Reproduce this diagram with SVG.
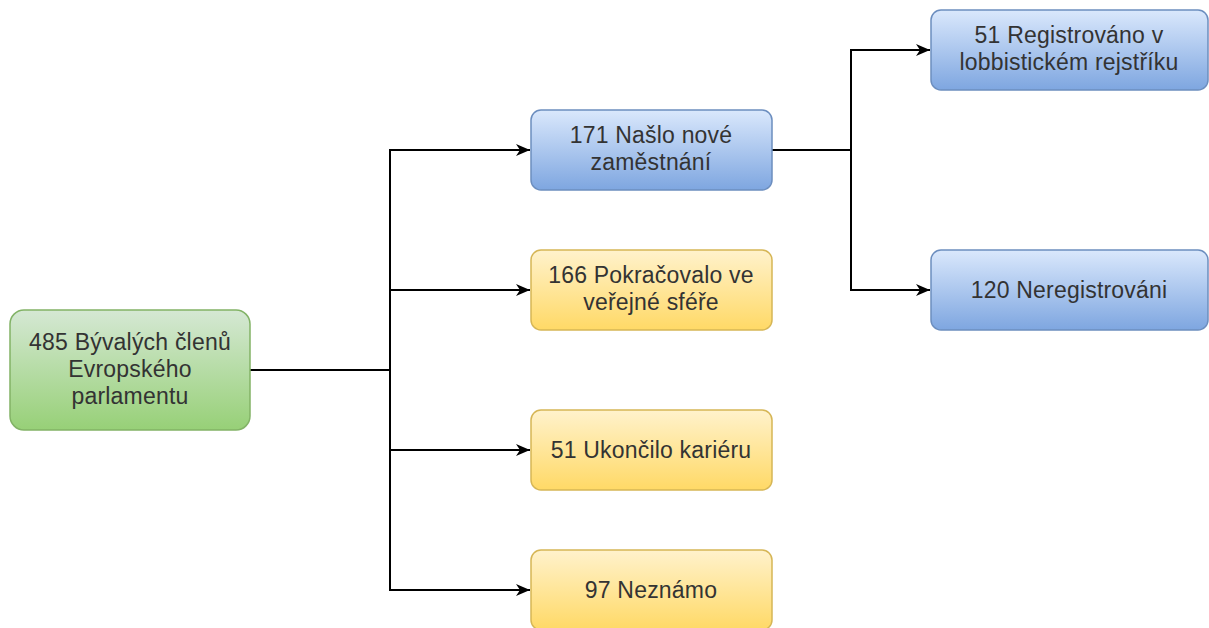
<svg xmlns="http://www.w3.org/2000/svg" width="1209" height="628" viewBox="0 0 1209 628">
  <style>
    .lbl { font-family: "Liberation Sans", Arial, sans-serif; font-size: 23px; letter-spacing: 0.2px; fill: #333333; text-anchor: middle; }
    .edge { fill: none; stroke: #000000; stroke-width: 2; }
  </style>
  <defs>
    <linearGradient id="gGreen" x1="0" y1="0" x2="0" y2="1">
      <stop offset="0" stop-color="#d5e8d4"/>
      <stop offset="1" stop-color="#97d077"/>
    </linearGradient>
    <linearGradient id="gBlue" x1="0" y1="0" x2="0" y2="1">
      <stop offset="0" stop-color="#dae8fc"/>
      <stop offset="1" stop-color="#7ea6e0"/>
    </linearGradient>
    <linearGradient id="gYellow" x1="0" y1="0" x2="0" y2="1">
      <stop offset="0" stop-color="#fff2cc"/>
      <stop offset="1" stop-color="#ffd966"/>
    </linearGradient>
    <marker id="arrow" markerWidth="15" markerHeight="14" refX="14" refY="7" orient="auto" markerUnits="userSpaceOnUse">
      <path d="M0,1 L14,7 L0,13 L4,7 Z" fill="#000000"/>
    </marker>
  </defs>

  <g id="connectors">
    <path class="edge" d="M250,370 H390 V150 H530" marker-end="url(#arrow)"/>
    <path class="edge" d="M390,290 H530" marker-end="url(#arrow)"/>
    <path class="edge" d="M390,370 V450 H530" marker-end="url(#arrow)"/>
    <path class="edge" d="M390,450 V590 H530" marker-end="url(#arrow)"/>
    <path class="edge" d="M772,150 H851 V50 H930" marker-end="url(#arrow)"/>
    <path class="edge" d="M851,150 V290 H930" marker-end="url(#arrow)"/>
  </g>

  <g id="node-root">
    <rect x="10" y="310" width="240" height="120" rx="14" fill="url(#gGreen)" stroke="#82b366" stroke-width="1.5"/>
    <text class="lbl" x="130" y="350">485 Bývalých členů</text>
    <text class="lbl" x="130" y="377">Evropského</text>
    <text class="lbl" x="130" y="404">parlamentu</text>
  </g>

  <g id="node-employed">
    <rect x="531" y="110" width="241" height="80" rx="10" fill="url(#gBlue)" stroke="#6c8ebf" stroke-width="1.5"/>
    <text class="lbl" x="651" y="143">171 Našlo nové</text>
    <text class="lbl" x="651" y="170">zaměstnání</text>
  </g>

  <g id="node-public">
    <rect x="531" y="250" width="241" height="80" rx="10" fill="url(#gYellow)" stroke="#d6b656" stroke-width="1.5"/>
    <text class="lbl" x="651" y="283">166 Pokračovalo ve</text>
    <text class="lbl" x="651" y="310">veřejné sféře</text>
  </g>

  <g id="node-ended">
    <rect x="531" y="410" width="241" height="80" rx="10" fill="url(#gYellow)" stroke="#d6b656" stroke-width="1.5"/>
    <text class="lbl" x="651" y="458">51 Ukončilo kariéru</text>
  </g>

  <g id="node-unknown">
    <rect x="531" y="550" width="241" height="80" rx="10" fill="url(#gYellow)" stroke="#d6b656" stroke-width="1.5"/>
    <text class="lbl" x="651" y="598">97 Neznámo</text>
  </g>

  <g id="node-registered">
    <rect x="931" y="10" width="277" height="80" rx="10" fill="url(#gBlue)" stroke="#6c8ebf" stroke-width="1.5"/>
    <text class="lbl" x="1069" y="43">51 Registrováno v</text>
    <text class="lbl" x="1069" y="70">lobbistickém rejstříku</text>
  </g>

  <g id="node-unregistered">
    <rect x="931" y="250" width="277" height="80" rx="10" fill="url(#gBlue)" stroke="#6c8ebf" stroke-width="1.5"/>
    <text class="lbl" x="1069" y="298">120 Neregistrováni</text>
  </g>
</svg>
